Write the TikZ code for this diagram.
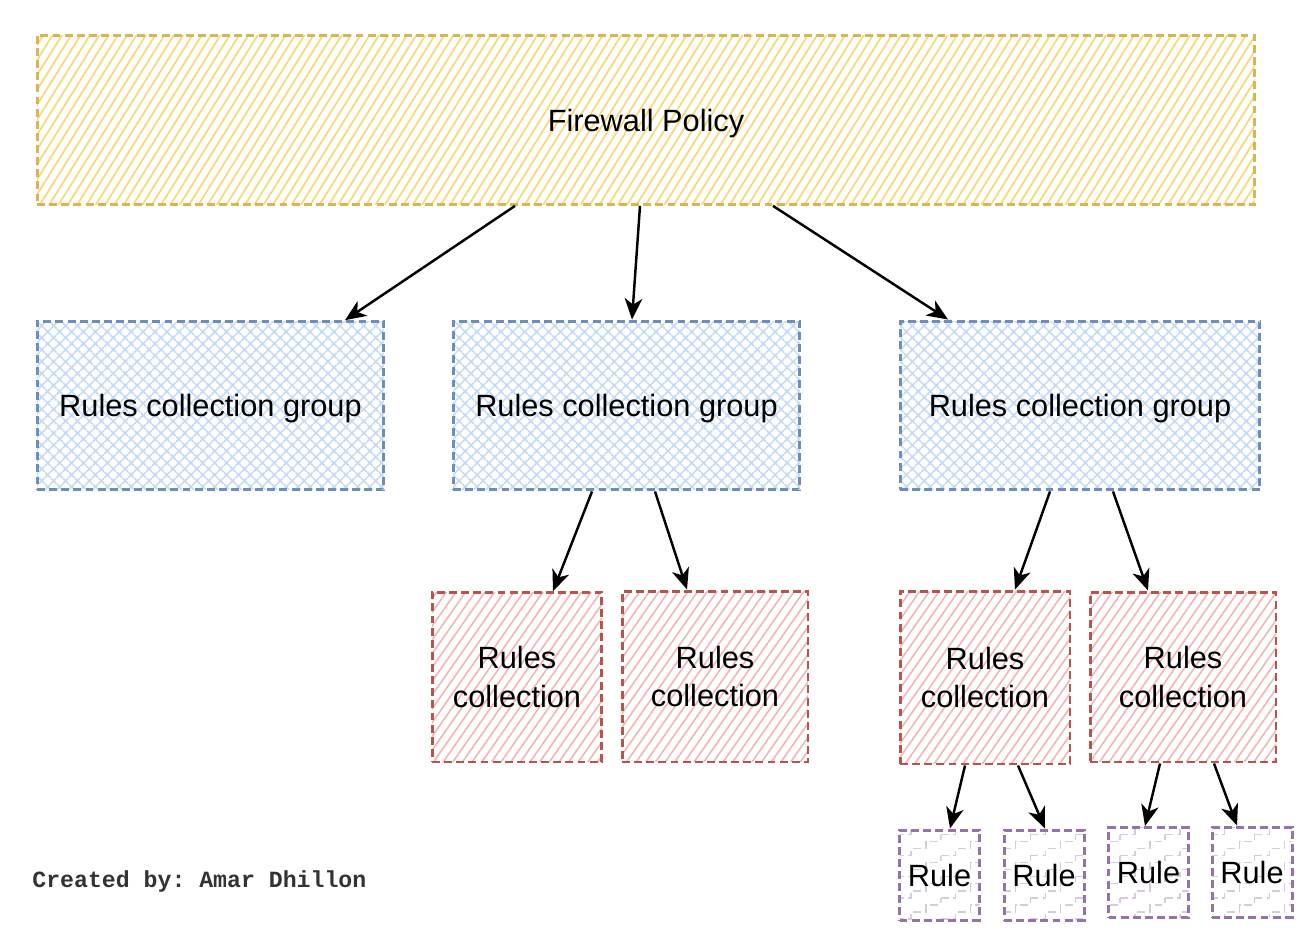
\documentclass[tikz,border=0pt]{standalone}
\usepackage{fontspec}
\setmainfont{Liberation Sans}
\newfontfamily\creditfont{Liberation Mono}
\usetikzlibrary{patterns.meta,arrows.meta}

\definecolor{policyline}{HTML}{D6B656}
\definecolor{policyhatch}{HTML}{F8D977}
\definecolor{groupline}{HTML}{6C8EBF}
\definecolor{grouphatch}{HTML}{C4DAF4}
\definecolor{collline}{HTML}{B85450}
\definecolor{collhatch}{HTML}{F2B5B3}
\definecolor{ruleline}{HTML}{9673A6}
\definecolor{rulehatch}{HTML}{D8C8E0}

\tikzdeclarepattern{
  name=stairs,
  type=uncolored,
  bounding box={(-0.5pt,-0.5pt) and (26pt,12.5pt)},
  tile size={(25.5pt,12pt)},
  code={
    \draw [line width=0.8pt] (0pt,0pt) -- (8.5pt,0pt) -- (8.5pt,4pt) -- (17pt,4pt) -- (17pt,8pt) -- (25.5pt,8pt) -- (25.5pt,12pt);
  }
}

\tikzset{
  sketchy/.style={line width=1.7pt, dash pattern=on 4.5pt off 2.4pt, font=\fontsize{17.5}{22}\selectfont},
  policy/.style={sketchy, draw=policyline, text depth=0pt, pattern={Lines[angle=58,distance=4.5pt,line width=1pt]}, pattern color=policyhatch},
  group/.style={sketchy, draw=groupline, text depth=0pt, pattern={Hatch[angle=45,distance=4.8pt,line width=0.9pt]}, pattern color=grouphatch},
  coll/.style={sketchy, draw=collline, pattern={Lines[angle=55,distance=4.5pt,line width=0.9pt]}, pattern color=collhatch, align=center},
  rule/.style={sketchy, draw=ruleline, pattern=stairs, pattern color=rulehatch, minimum width=1.6cm, minimum height=1.8cm, inner sep=0pt},
  arr/.style={-{Stealth[length=12pt,width=10pt,inset=3.5pt]}, line width=1.4pt}
}

\begin{document}
\frenchspacing
\begin{tikzpicture}[x=0.02cm, y=-0.02cm]
\useasboundingbox [fill=white] (0,0) rectangle (1304,940);

% top level
\node (fp) at (646,120) [policy, minimum width=24.36cm, minimum height=3.4cm] {Firewall Policy};

% groups
\node (g1) at (210.5,405.5) [group, minimum width=6.94cm, minimum height=3.38cm] {Rules collection group};
\node (g2) at (626.5,405.5) [group, minimum width=6.94cm, minimum height=3.38cm] {Rules collection group};
\node (g3) at (1080,405.5) [group, minimum width=7.2cm, minimum height=3.38cm] {Rules collection group};

% collections
\node (c1) at (517,677) [coll, minimum width=3.4cm, minimum height=3.4cm] {Rules\\collection};
\node (c2) at (715,676.5) [coll, minimum width=3.72cm, minimum height=3.42cm] {Rules\\collection};
\node (c3) at (985,677.5) [coll, minimum width=3.4cm, minimum height=3.46cm] {Rules\\collection};
\node (c4) at (1183,677) [coll, minimum width=3.72cm, minimum height=3.4cm] {Rules\\collection};

% rules
\node (r1) at (939.5,875) [rule] {Rule};
\node (r2) at (1044,875) [rule] {Rule};
\node (r3) at (1148.5,872.5) [rule] {Rule};
\node (r4) at (1252,872) [rule] {Rule};

\node (credit) at (32,881) [anchor=west, inner sep=0pt, font=\creditfont\bfseries\fontsize{13.2}{15}\selectfont, text=black!80] {Created by: Amar Dhillon};

% arrows
\draw [arr] ([xshift=-2.62cm]fp.south) -- ([xshift=2.69cm]g1.north);
\draw [arr] ([xshift=-0.12cm]fp.south) -- ([xshift=0.11cm]g2.north);
\draw [arr] ([xshift=2.54cm]fp.south) -- ([xshift=-2.64cm]g3.north);
\draw [arr] ([xshift=-0.69cm]g2.south) -- ([xshift=0.72cm]c1.north);
\draw [arr] ([xshift=0.57cm]g2.south) -- ([xshift=-0.56cm]c2.north);
\draw [arr] ([xshift=-0.6cm]g3.south) -- ([xshift=0.6cm]c3.north);
\draw [arr] ([xshift=0.66cm]g3.south) -- ([xshift=-0.7cm]c4.north);
\draw [arr] ([xshift=-0.4cm]c3.south) -- ([xshift=0.21cm]r1.north);
\draw [arr] ([xshift=0.66cm]c3.south) -- ([xshift=0.02cm]r2.north);
\draw [arr] ([xshift=-0.46cm]c4.south) -- ([xshift=-0.07cm]r3.north);
\draw [arr] ([xshift=0.62cm]c4.south) -- ([xshift=-0.3cm]r4.north);
\end{tikzpicture}
\end{document}
